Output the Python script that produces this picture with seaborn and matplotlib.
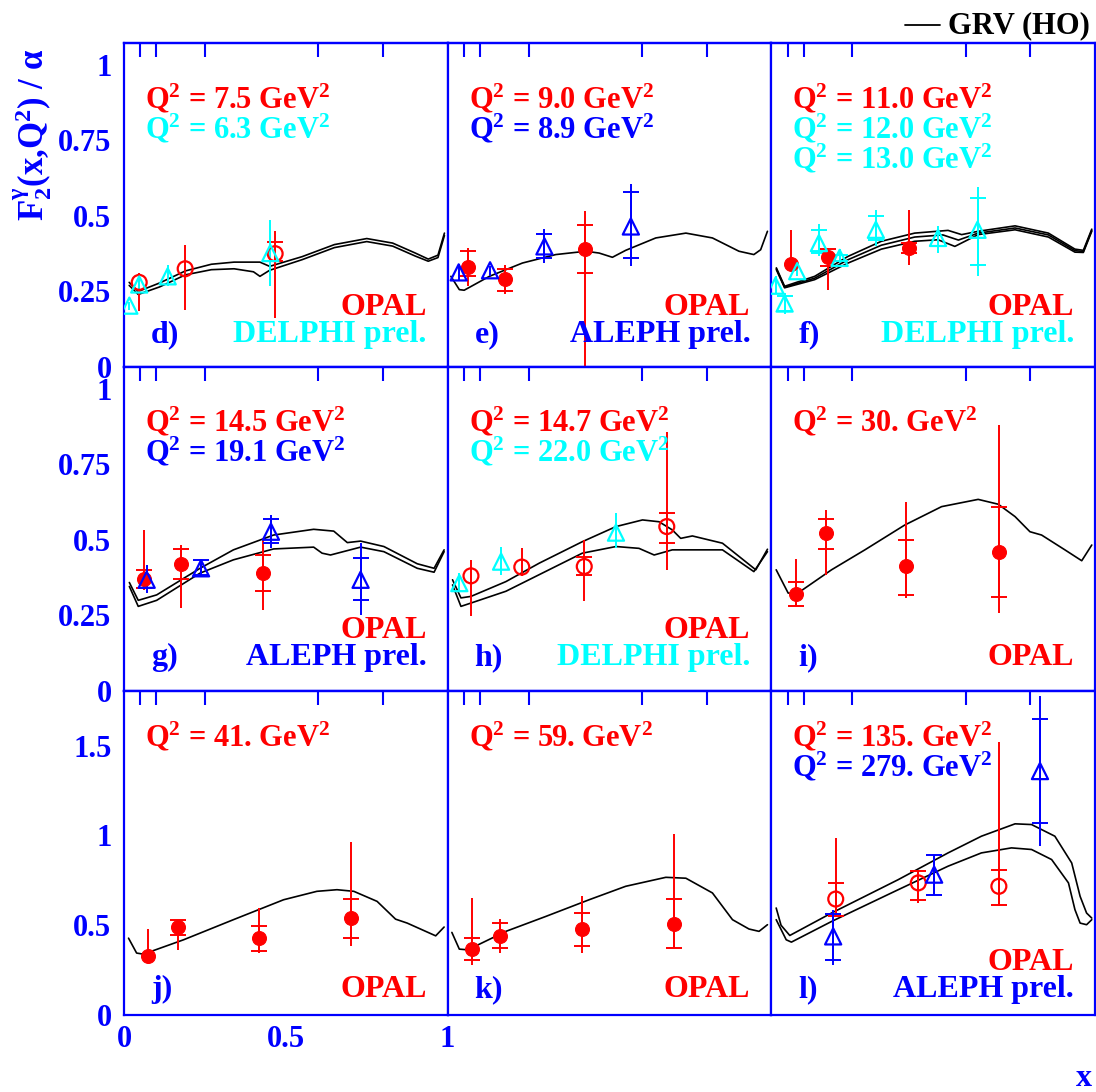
import matplotlib
matplotlib.use("Agg")
import matplotlib.pyplot as plt
from matplotlib.lines import Line2D
from matplotlib.ticker import MultipleLocator
import pandas as pd
import seaborn as sns

# GRV (HO) predictions, one list of (x, F2/alpha) per Q2 value
GRV_D = [
    [(0.016, 0.28), (0.044, 0.25), (0.11, 0.278), (0.19, 0.318), (0.27, 0.34), (0.34, 0.347),
     (0.42, 0.347), (0.45, 0.333), (0.55, 0.365), (0.65, 0.405), (0.75, 0.425), (0.83, 0.41),
     (0.90, 0.377), (0.94, 0.357), (0.97, 0.37), (0.99, 0.443)],
    [(0.016, 0.27), (0.044, 0.24), (0.11, 0.265), (0.19, 0.305), (0.27, 0.322), (0.34, 0.325),
     (0.40, 0.315), (0.42, 0.30), (0.45, 0.32), (0.55, 0.355), (0.65, 0.395), (0.75, 0.415),
     (0.83, 0.40), (0.90, 0.367), (0.94, 0.35), (0.97, 0.362), (0.99, 0.435)],
]
GRV_E = [
    [(0.01, 0.30), (0.036, 0.256), (0.051, 0.254), (0.129, 0.30), (0.231, 0.344), (0.334, 0.372),
     (0.427, 0.383), (0.468, 0.377), (0.509, 0.363), (0.55, 0.386), (0.643, 0.427), (0.736, 0.443),
     (0.818, 0.427), (0.90, 0.383), (0.946, 0.372), (0.967, 0.388), (0.988, 0.449)],
]
GRV_F = [
    [(0.0155, 0.328), (0.041, 0.267), (0.134, 0.30), (0.237, 0.366), (0.34, 0.416), (0.443, 0.443),
     (0.546, 0.452), (0.588, 0.438), (0.639, 0.449), (0.753, 0.467), (0.856, 0.443), (0.938, 0.39),
     (0.964, 0.386), (0.99, 0.456)],
    [(0.0155, 0.325), (0.041, 0.264), (0.134, 0.294), (0.237, 0.355), (0.34, 0.403), (0.443, 0.43),
     (0.53, 0.437), (0.578, 0.42), (0.639, 0.443), (0.753, 0.46), (0.856, 0.437), (0.938, 0.385),
     (0.964, 0.382), (0.99, 0.452)],
    [(0.0155, 0.322), (0.041, 0.262), (0.134, 0.289), (0.237, 0.344), (0.34, 0.39), (0.443, 0.416),
     (0.515, 0.421), (0.567, 0.399), (0.639, 0.438), (0.753, 0.454), (0.856, 0.43), (0.938, 0.38),
     (0.964, 0.379), (0.99, 0.449)],
]
GRV_G = [
    [(0.0165, 0.359), (0.044, 0.30), (0.101, 0.318), (0.235, 0.406), (0.338, 0.467), (0.462, 0.516),
     (0.586, 0.535), (0.648, 0.529), (0.69, 0.491), (0.731, 0.496), (0.803, 0.478), (0.906, 0.421),
     (0.958, 0.406), (0.989, 0.467)],
    [(0.0165, 0.346), (0.044, 0.28), (0.101, 0.30), (0.235, 0.39), (0.338, 0.434), (0.462, 0.47),
     (0.586, 0.476), (0.612, 0.456), (0.638, 0.45), (0.731, 0.476), (0.803, 0.461), (0.906, 0.406),
     (0.958, 0.393), (0.989, 0.461)],
]
GRV_H = [
    [(0.015, 0.368), (0.041, 0.308), (0.072, 0.313), (0.18, 0.362), (0.283, 0.423), (0.416, 0.494),
     (0.52, 0.544), (0.602, 0.566), (0.653, 0.56), (0.694, 0.533), (0.72, 0.505), (0.756, 0.513),
     (0.849, 0.489), (0.952, 0.401), (0.988, 0.469)],
    [(0.015, 0.351), (0.041, 0.28), (0.072, 0.291), (0.18, 0.33), (0.283, 0.385), (0.416, 0.456),
     (0.52, 0.478), (0.591, 0.472), (0.638, 0.45), (0.694, 0.467), (0.849, 0.467), (0.946, 0.395),
     (0.988, 0.461)],
]
GRV_I = [
    [(0.015, 0.401), (0.052, 0.324), (0.082, 0.324), (0.186, 0.401), (0.289, 0.467), (0.412, 0.549),
     (0.526, 0.61), (0.639, 0.634), (0.701, 0.618), (0.753, 0.577), (0.799, 0.527), (0.835, 0.516),
     (0.907, 0.467), (0.959, 0.431), (0.99, 0.483)],
]
GRV_J = [
    [(0.014, 0.428), (0.039, 0.345), (0.06, 0.339), (0.184, 0.419), (0.338, 0.531), (0.493, 0.642),
     (0.596, 0.689), (0.658, 0.698), (0.71, 0.689), (0.782, 0.633), (0.839, 0.534), (0.875, 0.512),
     (0.963, 0.441), (0.989, 0.49)],
]
GRV_K = [
    [(0.013, 0.46), (0.036, 0.367), (0.062, 0.363), (0.18, 0.466), (0.303, 0.549), (0.437, 0.642),
     (0.55, 0.717), (0.674, 0.767), (0.736, 0.762), (0.818, 0.68), (0.88, 0.531), (0.931, 0.479),
     (0.962, 0.466), (0.988, 0.503)],
]
GRV_L = [
    [(0.015, 0.596), (0.03, 0.50), (0.057, 0.443), (0.186, 0.568), (0.392, 0.754), (0.546, 0.903),
     (0.649, 0.996), (0.753, 1.065), (0.804, 1.061), (0.876, 0.996), (0.928, 0.847), (0.954, 0.661),
     (0.974, 0.568), (0.99, 0.54)],
    [(0.015, 0.531), (0.046, 0.419), (0.062, 0.406), (0.186, 0.521), (0.392, 0.698), (0.546, 0.829),
     (0.649, 0.903), (0.742, 0.931), (0.804, 0.922), (0.866, 0.866), (0.918, 0.736), (0.938, 0.587),
     (0.954, 0.512), (0.974, 0.503), (0.99, 0.531)],
]

# measurements: (x, F2/alpha, total low, total high, stat low, stat high)
OPAL_D = [(0.047, 0.280, 0.185, 0.311, None, None), (0.189, 0.325, 0.19, 0.405, None, None),
          (0.467, 0.375, 0.163, 0.449, 0.35, 0.414)]
DELPHI_D = [(0.0165, 0.203, 0.19, 0.215, None, None), (0.047, 0.273, 0.255, 0.29, None, None),
            (0.135, 0.30, 0.267, 0.339, None, None), (0.452, 0.377, 0.267, 0.487, None, None)]
OPAL_E = [(0.062, 0.331, 0.267, 0.394, 0.30, 0.383), (0.177, 0.291, 0.24, 0.339, 0.251, 0.324),
          (0.424, 0.391, 0.0, 0.515, 0.311, 0.47)]
ALEPH_E = [(0.034, 0.313, 0.285, 0.34, None, None), (0.131, 0.32, 0.30, 0.335, None, None),
           (0.299, 0.399, 0.344, 0.456, 0.36, 0.44), (0.566, 0.465, 0.333, 0.606, 0.36, 0.578)]
OPAL_F = [(0.062, 0.342, 0.33, 0.454, None, None), (0.175, 0.363, 0.256, 0.394, 0.333, 0.39),
          (0.426, 0.394, 0.339, 0.518, 0.377, 0.41)]
DELPHI_F = [(0.013, 0.269, 0.24, 0.30, None, None), (0.041, 0.21, 0.174, 0.245, 0.185, 0.235),
            (0.08, 0.317, 0.30, 0.335, None, None), (0.147, 0.41, 0.366, 0.474, 0.377, 0.452),
            (0.211, 0.361, 0.345, 0.39, 0.35, 0.37), (0.323, 0.454, 0.399, 0.518, 0.42, 0.498),
            (0.515, 0.427, 0.377, 0.465, None, None), (0.637, 0.454, 0.30, 0.597, 0.339, 0.558)]
OPAL_G = [(0.062, 0.371, 0.335, 0.533, 0.34, 0.40), (0.176, 0.421, 0.275, 0.483, 0.371, 0.469),
          (0.428, 0.39, 0.269, 0.505, 0.33, 0.45)]
ALEPH_G = [(0.07, 0.368, 0.324, 0.417, None, None), (0.238, 0.406, 0.381, 0.437, 0.385, 0.433),
           (0.454, 0.527, 0.472, 0.582, 0.49, 0.568), (0.731, 0.368, 0.253, 0.489, 0.30, 0.44)]
OPAL_H = [(0.072, 0.381, 0.247, 0.434, None, None), (0.229, 0.41, 0.379, 0.472, None, None),
          (0.422, 0.412, 0.297, 0.50, 0.384, 0.445), (0.677, 0.544, 0.401, 0.857, 0.491, 0.59)]
DELPHI_H = [(0.036, 0.357, 0.33, 0.39, None, None), (0.165, 0.428, 0.384, 0.478, None, None),
            (0.52, 0.524, 0.472, 0.588, None, None)]
OPAL_I = [(0.077, 0.321, 0.28, 0.436, 0.28, 0.36), (0.168, 0.522, 0.384, 0.599, 0.47, 0.569),
          (0.415, 0.412, 0.308, 0.626, 0.319, 0.50), (0.703, 0.461, 0.258, 0.879, 0.311, 0.61)]
OPAL_J = [(0.075, 0.326, 0.317, 0.479, None, None), (0.167, 0.49, 0.363, 0.531, 0.447, 0.531),
          (0.418, 0.428, 0.345, 0.596, 0.359, 0.497), (0.702, 0.538, 0.382, 0.963, 0.428, 0.648)]
OPAL_K = [(0.074, 0.369, 0.279, 0.652, 0.307, 0.428), (0.163, 0.441, 0.345, 0.534, 0.372, 0.512),
          (0.415, 0.48, 0.345, 0.661, 0.387, 0.568), (0.70, 0.507, 0.372, 1.006, 0.372, 0.648)]
OPAL_L = [(0.199, 0.646, 0.549, 0.987, 0.553, 0.736), (0.454, 0.736, 0.624, 0.81, 0.64, 0.80),
          (0.703, 0.717, 0.605, 1.521, 0.615, 0.81)]
ALEPH_L = [(0.191, 0.438, 0.279, 0.587, 0.307, 0.564), (0.503, 0.782, 0.67, 0.894, 0.67, 0.894),
           (0.83, 1.359, 0.94, 1.778, 1.071, 1.648)]

LETTERS = ["d", "e", "f", "g", "h", "i", "j", "k", "l"]
GRV = [GRV_D, GRV_E, GRV_F, GRV_G, GRV_H, GRV_I, GRV_J, GRV_K, GRV_L]
MEASUREMENTS = [
    [("OPAL", OPAL_D), ("DELPHI", DELPHI_D)],
    [("OPAL", OPAL_E), ("ALEPH", ALEPH_E)],
    [("OPAL", OPAL_F), ("DELPHI", DELPHI_F)],
    [("OPAL", OPAL_G), ("ALEPH", ALEPH_G)],
    [("OPAL", OPAL_H), ("DELPHI", DELPHI_H)],
    [("OPAL", OPAL_I)],
    [("OPAL", OPAL_J)],
    [("OPAL", OPAL_K)],
    [("OPAL", OPAL_L), ("ALEPH", ALEPH_L)],
]
Q2_VALUES = [
    [("OPAL", "7.5"), ("DELPHI", "6.3")],
    [("OPAL", "9.0"), ("ALEPH", "8.9")],
    [("OPAL", "11.0"), ("DELPHI", "12.0"), ("DELPHI", "13.0")],
    [("OPAL", "14.5"), ("ALEPH", "19.1")],
    [("OPAL", "14.7"), ("DELPHI", "22.0")],
    [("OPAL", "30.")],
    [("OPAL", "41.")],
    [("OPAL", "59.")],
    [("OPAL", "135."), ("ALEPH", "279.")],
]
OPEN_OPAL = {"d", "h", "l"}
EXP_LABEL = {"OPAL": "OPAL", "ALEPH": "ALEPH prel.", "DELPHI": "DELPHI prel."}
COLORS = {"OPAL": "#ff0000", "ALEPH": "#0000ff", "DELPHI": "#00ffff"}
AXIS_BLUE = "#0000ff"

sns.set_style("white")
plt.rcParams["font.family"] = ["Liberation Serif", "DejaVu Serif"]
plt.rcParams["font.weight"] = "bold"
plt.rcParams["mathtext.fontset"] = "custom"
plt.rcParams["mathtext.rm"] = "Liberation Serif:bold"
plt.rcParams["mathtext.it"] = "Liberation Serif:bold"
plt.rcParams["mathtext.bf"] = "Liberation Serif:bold"

fig, axes = plt.subplots(3, 3, figsize=(10.96, 10.92), dpi=100)
fig.subplots_adjust(left=124 / 1096, right=1095 / 1096, top=1 - 43 / 1092,
                    bottom=1 - 1015 / 1092, wspace=0, hspace=0)

# text offsets in pixels per row: Q2 first baseline from top, label lines from bottom
TOP_PX = [65, 64, 55]
BOT_PX = [(52, 25), (53, 26), (45, 18)]

for i, ax in enumerate(axes.flat):
    row, col = divmod(i, 3)
    letter = LETTERS[i]

    frames = []
    for k, curve in enumerate(GRV[i]):
        df = pd.DataFrame(curve, columns=["x", "f2"])
        df["q2"] = k
        frames.append(df)
    sns.lineplot(data=pd.concat(frames), x="x", y="f2", units="q2", estimator=None,
                 sort=False, color="black", lw=1.2, ax=ax, legend=False, zorder=2)

    for exp, pts in MEASUREMENTS[i]:
        c = COLORS[exp]
        df = pd.DataFrame(pts, columns=["x", "f2", "tlo", "thi", "slo", "shi"]).astype(float)
        x, y = df["x"].to_numpy(), df["f2"].to_numpy()
        ax.errorbar(x, y, yerr=[y - df["tlo"].to_numpy(), df["thi"].to_numpy() - y],
                    fmt="none", ecolor=c, elinewidth=1.4, capsize=0, zorder=3)
        st = df.dropna()
        if len(st):
            sx, sy = st["x"].to_numpy(), st["f2"].to_numpy()
            ax.errorbar(sx, sy, yerr=[sy - st["slo"].to_numpy(), st["shi"].to_numpy() - sy],
                        fmt="none", ecolor=c, elinewidth=1.4, capsize=6, capthick=1.4, zorder=3)
        if exp == "OPAL" and letter not in OPEN_OPAL:
            sns.scatterplot(data=df, x="x", y="f2", marker="o", s=100, color=c, edgecolor=c,
                            ax=ax, zorder=4)
        elif exp == "OPAL":
            sns.scatterplot(data=df, x="x", y="f2", marker="o", s=115, color=c, facecolor="none",
                            edgecolor=c, linewidth=1.6, ax=ax, zorder=4)
        else:
            sns.scatterplot(data=df, x="x", y="f2", marker="^", s=135, color=c, facecolor="none",
                            edgecolor=c, linewidth=1.6, ax=ax, zorder=4)

    # Q2 labels
    for k, (exp, q2) in enumerate(Q2_VALUES[i]):
        ax.annotate(f"Q$^2$ = {q2} GeV$^2$", xy=(0, 1), xycoords="axes fraction",
                    xytext=(21, -TOP_PX[row] - 30 * k), textcoords="offset pixels",
                    ha="left", va="baseline", fontsize=22, color=COLORS[exp])

    exps = [e for e, _ in MEASUREMENTS[i]]
    lines = BOT_PX[row] if len(exps) > 1 else BOT_PX[row][1:]
    for exp, off in zip(exps, lines):
        ax.annotate(EXP_LABEL[exp], xy=(1, 0), xycoords="axes fraction",
                    xytext=(-21, off), textcoords="offset pixels",
                    ha="right", va="baseline", fontsize=23, color=COLORS[exp])
    ax.annotate(f"{letter})", xy=(0, 0), xycoords="axes fraction",
                xytext=(27, BOT_PX[row][1]), textcoords="offset pixels",
                ha="left", va="baseline", fontsize=23, color=AXIS_BLUE)

    ax.set_xlim(0, 1)
    ax.xaxis.set_major_locator(MultipleLocator(0.5))
    ax.xaxis.set_minor_locator(MultipleLocator(0.1))
    if row < 2:
        ax.set_ylim(0, 1.072)
        ax.yaxis.set_major_locator(MultipleLocator(0.25))
        ax.yaxis.set_minor_locator(MultipleLocator(0.05))
        ax.set_yticks([0, 0.25, 0.5, 0.75, 1])
        ax.set_yticklabels(["0", "0.25", "0.5", "0.75", "1"])
    else:
        ax.set_ylim(0, 1.805)
        ax.yaxis.set_major_locator(MultipleLocator(0.5))
        ax.yaxis.set_minor_locator(MultipleLocator(0.1))
        ax.set_yticks([0, 0.5, 1, 1.5])
        ax.set_yticklabels(["0", "0.5", "1", "1.5"])
    if row == 2 and col == 0:
        ax.set_xticks([0, 0.5, 1])
        ax.set_xticklabels(["0", "0.5", "1"])
    ax.set_xlabel("")
    ax.set_ylabel("")
    ax.tick_params(which="both", direction="in", colors=AXIS_BLUE, top=False, right=False,
                   labelsize=22, width=1.5, labelleft=(col == 0),
                   labelbottom=(row == 2 and col == 0))
    ax.tick_params(which="major", length=13)
    ax.tick_params(which="minor", length=6.5)
    ax.tick_params(axis="y", pad=9)
    ax.tick_params(axis="x", pad=7)
    for sp in ax.spines.values():
        sp.set_color(AXIS_BLUE)
        sp.set_linewidth(1.6)
    sec = ax.secondary_xaxis("top")
    sec.set_xticks([0.05, 0.1, 0.25, 0.6, 0.8])
    sec.tick_params(direction="in", length=10, width=1.5, color=AXIS_BLUE, labeltop=False)
    sec.spines["top"].set_color(AXIS_BLUE)
    sec.spines["top"].set_linewidth(1.6)

fig.text(33 / 1096, 1 - 135 / 1092, r"F$_2^{\gamma}$(x,Q$^2$) / $\alpha$", rotation=90,
         ha="center", va="center", fontsize=25, color=AXIS_BLUE)
fig.text(1092 / 1096, 1 - 1086 / 1092, "x", ha="right", va="baseline", fontsize=23,
         color=AXIS_BLUE)
fig.add_artist(Line2D([905 / 1096, 940 / 1096], [1 - 25 / 1092] * 2, color="black", lw=1.3,
                      transform=fig.transFigure))
fig.text(948 / 1096, 1 - 26 / 1092, "GRV (HO)", ha="left", va="center", fontsize=22,
         color="black")

fig.savefig("out.png", dpi=100)
